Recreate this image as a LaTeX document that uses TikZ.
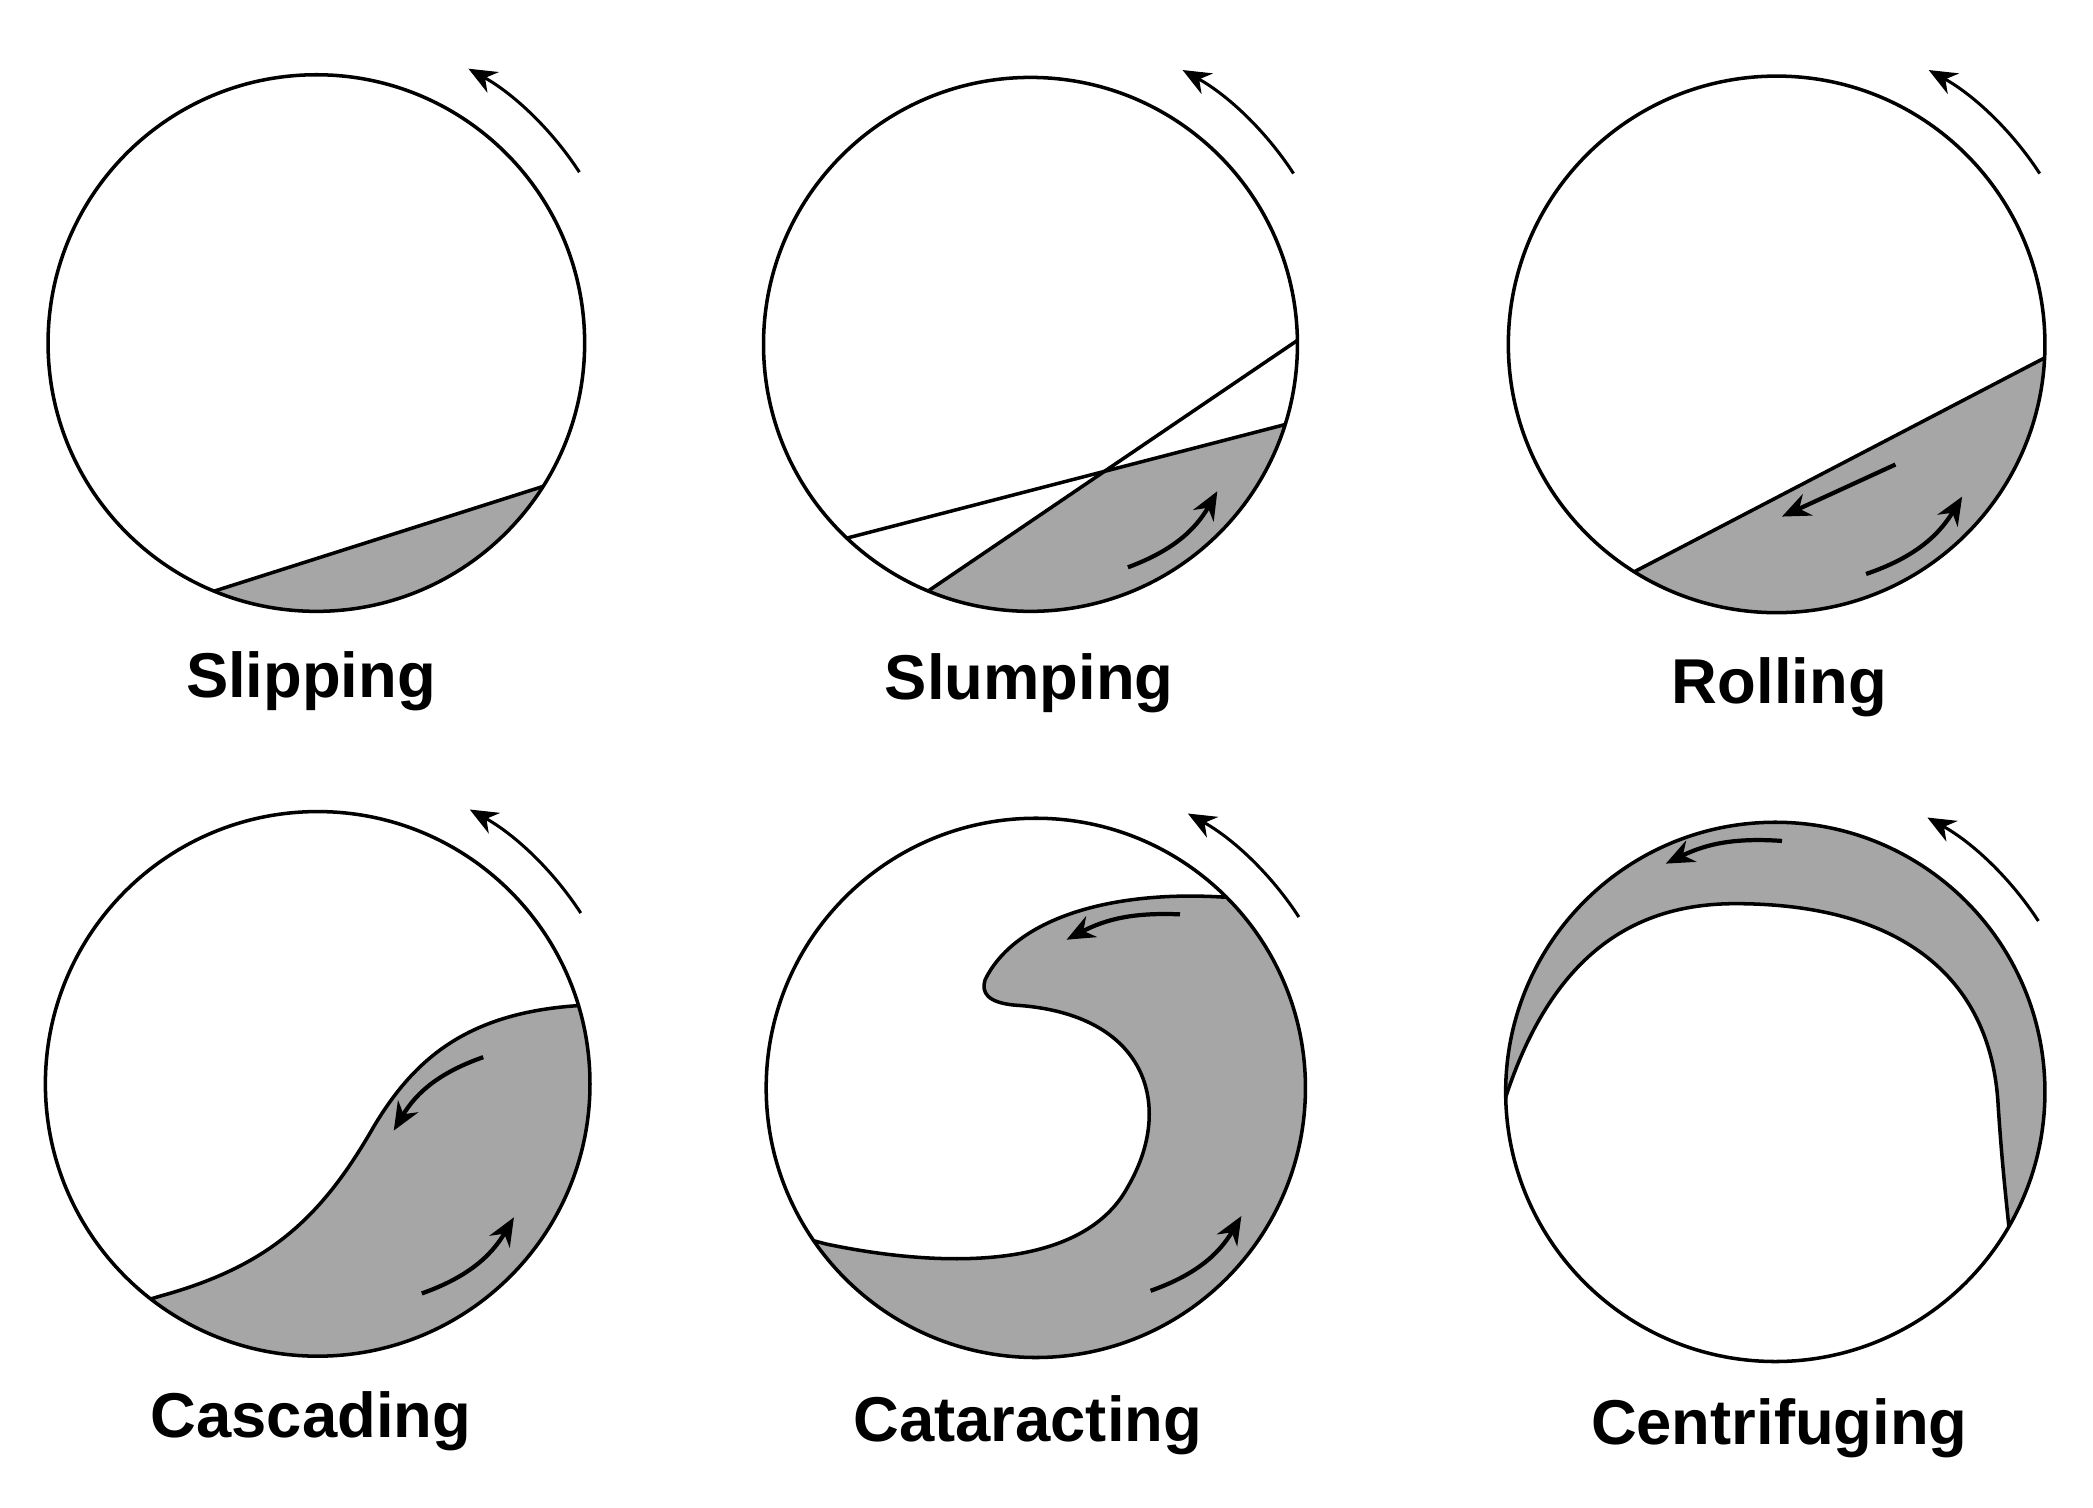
\documentclass[tikz,border=0pt]{standalone}
\usepackage{fontspec}
\setmainfont{Liberation Sans}
\usetikzlibrary{arrows.meta,calc}
\definecolor{fillg}{HTML}{A6A6A6}
\tikzset{
  drum/.style={line width=0.75pt},
  edge/.style={line width=0.75pt},
  rot/.style={line width=0.65pt,-{Stealth[length=6pt,width=5pt]}},
  flow/.style={line width=0.9pt,-{Stealth[length=6pt,width=5pt]}},
  lab/.style={font=\fontsize{13.5}{16}\selectfont\bfseries}
}
\begin{document}
\begin{tikzpicture}[x=0.01cm,y=0.01cm]
\useasboundingbox (0,0) rectangle (1568,1129);
\coordinate (c1) at (237,872);
\coordinate (c2) at (772,871);
\coordinate (c3) at (1331,871);
\coordinate (c4) at (238,317);
\coordinate (c5) at (776,314);
\coordinate (c6) at (1330,311);

% ---- Slipping
\coordinate (a1) at (160,686); \coordinate (b1) at (405,764);
\begin{scope}
\clip (c1) circle[radius=201];
\fill[fillg] ($(a1)!-0.5!(b1)$) -- ($(b1)!-0.5!(a1)$) -- ++(0,-600) -- ++(-800,0) -- cycle;
\draw[edge] ($(a1)!-0.5!(b1)$) -- ($(b1)!-0.5!(a1)$);
\end{scope}
\draw[drum] (c1) circle[radius=201];

% ---- Slumping
\coordinate (a2) at (635,726); \coordinate (b2) at (963,811);
\coordinate (d2) at (695,686); \coordinate (e2) at (972,874);
\begin{scope}
\clip (c2) circle[radius=200];
\begin{scope}
\clip ($(a2)!-0.5!(b2)$) -- ($(b2)!-0.5!(a2)$) -- ++(0,-700) -- ++(-900,0) -- cycle;
\fill[fillg] ($(d2)!-0.5!(e2)$) -- ($(e2)!-0.5!(d2)$) -- ++(0,-700) -- ++(-900,0) -- cycle;
\end{scope}
\draw[edge] ($(a2)!-0.5!(b2)$) -- ($(b2)!-0.5!(a2)$);
\draw[edge] ($(d2)!-0.5!(e2)$) -- ($(e2)!-0.5!(d2)$);
\end{scope}
\draw[drum] (c2) circle[radius=200];
\coordinate (s2a) at (845,704); \coordinate (s2b) at (912,761);
\draw[flow] (s2a) to[bend right=20] (s2b);

% ---- Rolling
\coordinate (a3) at (1225,701); \coordinate (b3) at (1532,861);
\begin{scope}
\clip (c3) circle[radius=201];
\fill[fillg] ($(a3)!-0.5!(b3)$) -- ($(b3)!-0.5!(a3)$) -- ++(0,-600) -- ++(-800,0) -- cycle;
\draw[edge] ($(a3)!-0.5!(b3)$) -- ($(b3)!-0.5!(a3)$);
\end{scope}
\draw[drum] (c3) circle[radius=201];
\coordinate (r3a) at (1420,781); \coordinate (r3b) at (1335,742);
\draw[flow] (r3a) -- (r3b);
\coordinate (r3c) at (1398,699); \coordinate (r3d) at (1470,757);
\draw[flow] (r3c) to[bend right=20] (r3d);

% ---- Cascading
\begin{scope}
\clip (c4) circle[radius=204];
\fill[fillg] (100,152) -- (120,158) .. controls (200,180) and (240,215) .. (280,285) .. controls (310,335) and (350,372) .. (440,376)
  -- (700,378) -- (700,-50) -- (0,-50) -- cycle;
\draw[edge] (100,152) -- (120,158) .. controls (200,180) and (240,215) .. (280,285) .. controls (310,335) and (350,372) .. (440,376) -- (480,377);
\end{scope}
\draw[drum] (c4) circle[radius=204];
\coordinate (k4a) at (362,337); \coordinate (k4b) at (295,282);
\draw[flow] (k4a) to[bend right=20] (k4b);
\coordinate (k4c) at (316,160); \coordinate (k4d) at (385,217);
\draw[flow] (k4c) to[bend right=20] (k4d);

% ---- Cataracting
\begin{scope}
\clip (c5) circle[radius=202];
\fill[fillg] (600,202) -- (619,197) .. controls (700,180) and (810,175) .. (845,240) .. controls (880,300) and (860,370) .. (760,376)
  .. controls (740,378) and (735,385) .. (738,395) .. controls (760,440) and (830,462) .. (915,457) -- (960,456)
  -- (1100,456) -- (1100,0) -- (400,100) -- cycle;
\draw[edge] (600,202) -- (619,197) .. controls (700,180) and (810,175) .. (845,240) .. controls (880,300) and (860,370) .. (760,376)
  .. controls (740,378) and (735,385) .. (738,395) .. controls (760,440) and (830,462) .. (915,457) -- (960,456);
\end{scope}
\draw[drum] (c5) circle[radius=202];
\coordinate (t5a) at (884,444); \coordinate (t5b) at (799,425);
\draw[flow] (t5a) to[bend right=15] (t5b);
\coordinate (t5c) at (862,162); \coordinate (t5d) at (930,218);
\draw[flow] (t5c) to[bend right=20] (t5d);

% ---- Centrifuging
\begin{scope}
\clip (c6) circle[radius=202];
\fill[fillg] (1120,280) -- (1128,307) .. controls (1165,420) and (1230,452) .. (1300,452) .. controls (1420,452) and (1492,400) .. (1497,300)
  .. controls (1500,255) and (1503,230) .. (1506,200) -- (1510,160)
  -- (1700,100) -- (1700,700) -- (900,700) -- (900,280) -- cycle;
\draw[edge] (1120,280) -- (1128,307) .. controls (1165,420) and (1230,452) .. (1300,452) .. controls (1420,452) and (1492,400) .. (1497,300)
  .. controls (1500,255) and (1503,230) .. (1506,200) -- (1510,160);
\end{scope}
\draw[drum] (c6) circle[radius=202];
\coordinate (f6a) at (1335,499); \coordinate (f6b) at (1248,482);
\draw[flow] (f6a) to[bend right=15] (f6b);

% ---- rotation arrows
\foreach \c in {c1,c2,c3,c4,c5,c6}{
  \draw[rot] ($(\c)+(33:235)$) arc[start angle=33,end angle=61,radius=235];
}

% ---- labels
\node[lab] (l1) at (233,619) {Slipping};
\node[lab] (l2) at (771,617) {Slumping};
\node[lab] (l3) at (1333,614) {Rolling};
\node[lab] (l4) at (233,64) {Cascading};
\node[lab] (l5) at (770,61) {Cataracting};
\node[lab] (l6) at (1333,59) {Centrifuging};
\end{tikzpicture}
\end{document}
